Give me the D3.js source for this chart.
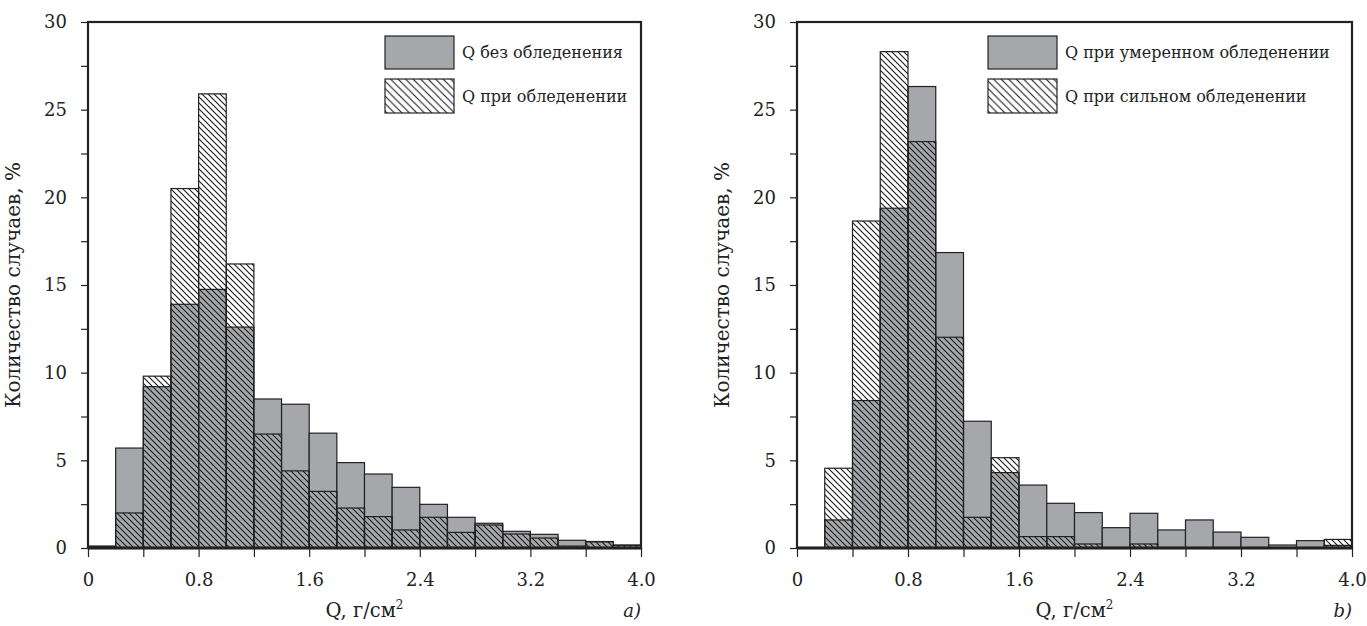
<!DOCTYPE html>
<html><head><meta charset="utf-8">
<script src="https://cdn.jsdelivr.net/npm/d3@7"></script>
<style>body{margin:0;background:#fff}svg{display:block}text{font-family:"DejaVu Serif",serif;fill:#222}</style>
</head><body>
<svg id="c" width="1367" height="626"></svg>
<script>
const binStarts = [0,0.2,0.4,0.6,0.8,1.0,1.2,1.4,1.6,1.8,2.0,2.2,2.4,2.6,2.8,3.0,3.2,3.4,3.6,3.8];
const binWidth = 0.2;
// Panel a
const aNoIce   = [0.1,5.7,9.2,13.9,14.75,12.6,8.5,8.2,6.55,4.87,4.22,3.46,2.49,1.75,1.41,0.95,0.78,0.44,0.37,0.17];
const aIce     = [0.1,2.0,9.8,20.5,25.9,16.2,6.5,4.4,3.23,2.28,1.79,1.03,1.75,0.89,1.31,0.8,0.57,0.11,0.35,0.15];
// Panel b
const bModerate= [0,1.6,8.41,19.38,26.32,16.85,7.23,4.3,3.59,2.55,2.02,1.16,1.98,1.03,1.6,0.91,0.61,0.17,0.42,0.15];
const bSevere  = [0,4.55,18.65,28.31,23.18,12.02,1.75,5.15,0.65,0.65,0.23,0,0.23,0,0,0,0,0,0,0.49];
const legendA = ["Q без обледенения","Q при обледенении"];
const legendB = ["Q при умеренном обледенении","Q при сильном обледенении"];
const xTicks = [0,0.4,0.8,1.2,1.6,2.0,2.4,2.8,3.2,3.6,4.0];
const xLabels = [0,0.8,1.6,2.4,3.2,4.0];
const yTicks = [0,2.5,5,7.5,10,12.5,15,17.5,20,22.5,25,27.5,30];
const yLabels = [0,5,10,15,20,25,30];

const svg = d3.select("#c");
const defs = svg.append("defs");
function hatch(id, s){
  const p = defs.append("pattern").attr("id",id).attr("patternUnits","userSpaceOnUse")
    .attr("width",s).attr("height",s);
  p.append("path").attr("d",`M0,0L${s},${s}M${-s/2},${s/2}L${s/2},${3*s/2}M${s/2},${-s/2}L${3*s/2},${s/2}`)
    .attr("stroke","#1a1a1a").attr("stroke-width",1.1);
}
hatch("h1",6);
hatch("h2",7.5);

const GRAY = "#a6a7aa";
const DARK = "#222";
const FONT = '"DejaVu Serif",serif';

function panel(x0, x1, gray, hat, legend, tag, legX){
  const top = 22, bottom = 548;
  const x = d3.scaleLinear().domain([0,4]).range([x0,x1]);
  const y = d3.scaleLinear().domain([0,30]).range([bottom,top]);
  const g = svg.append("g");
  g.selectAll("rect.g").data(binStarts.map((b,i)=>({b,v:gray[i]})).filter(d=>d.v>0)).enter().append("rect")
    .attr("x",d=>x(d.b)).attr("width",d=>x(d.b+binWidth)-x(d.b))
    .attr("y",d=>y(d.v)).attr("height",d=>y(0)-y(d.v))
    .attr("fill",GRAY).attr("stroke",DARK).attr("stroke-width",1.2);
  g.selectAll("rect.h").data(binStarts.map((b,i)=>({b,v:hat[i]})).filter(d=>d.v>0)).enter().append("rect")
    .attr("x",d=>x(d.b)).attr("width",d=>x(d.b+binWidth)-x(d.b))
    .attr("y",d=>y(d.v)).attr("height",d=>y(0)-y(d.v))
    .attr("fill","url(#h1)").attr("stroke",DARK).attr("stroke-width",1.2);
  // ticks
  const xa = g.append("g").attr("transform",`translate(0,${bottom})`)
    .call(d3.axisBottom(x).tickValues(xTicks).tickSize(9).tickFormat(""));
  xa.select(".domain").remove();
  xa.selectAll("line").attr("stroke",DARK).attr("stroke-width",1.2);
  const xl = g.append("g").attr("transform",`translate(0,${bottom})`)
    .call(d3.axisBottom(x).tickValues(xLabels).tickSize(0).tickPadding(0).tickFormat(d=>d===0?"0":d3.format(".1f")(d)));
  xl.select(".domain").remove();
  xl.selectAll("text").attr("y",38).attr("dy",null).attr("font-size",18).style("font-family",FONT).attr("fill",DARK);
  const ya = g.append("g").attr("transform",`translate(${x0},0)`)
    .call(d3.axisLeft(y).tickValues(yTicks).tickSize(7).tickFormat(""));
  ya.select(".domain").remove();
  ya.selectAll("line").attr("stroke",DARK).attr("stroke-width",1.2);
  const yl = g.append("g").attr("transform",`translate(${x0},0)`)
    .call(d3.axisLeft(y).tickValues(yLabels).tickSize(0).tickPadding(21));
  yl.select(".domain").remove();
  yl.selectAll("text").attr("font-size",18).style("font-family",FONT).attr("fill",DARK);
  // frame
  g.append("rect").attr("x",x0).attr("y",top).attr("width",x1-x0).attr("height",bottom-top)
    .attr("fill","none").attr("stroke",DARK).attr("stroke-width",2.2);
  g.append("line").attr("x1",x0).attr("x2",x1).attr("y1",bottom).attr("y2",bottom).attr("stroke",DARK).attr("stroke-width",3);
  // axis titles
  g.append("text").attr("transform",`translate(${x0-68},${(top+bottom)/2}) rotate(-90)`)
    .attr("text-anchor","middle").attr("font-size",20).text("Количество случаев, %");
  const xt = g.append("text").attr("x",(x0+x1)/2).attr("y",617).attr("text-anchor","middle").attr("font-size",19.5);
  xt.append("tspan").text("Q, г/см");
  xt.append("tspan").attr("font-size",12).attr("dy",-8).text("2");
  g.append("text").attr("x",x1).attr("y",617).attr("text-anchor","end").attr("font-size",18)
    .attr("font-style","italic").text(tag);
  // legend
  const lg = g.append("g").attr("transform",`translate(${legX},36)`);
  lg.append("rect").attr("width",69).attr("height",33).attr("fill",GRAY).attr("stroke",DARK).attr("stroke-width",1.2);
  lg.append("rect").attr("y",43).attr("width",69).attr("height",34).attr("fill","url(#h2)").attr("stroke",DARK).attr("stroke-width",1.2);
  lg.append("text").attr("x",77).attr("y",22).attr("font-size",16).text(legend[0]);
  lg.append("text").attr("x",77).attr("y",66).attr("font-size",16).text(legend[1]);
}
panel(88, 641, aNoIce, aIce, legendA, "a)", 385);
panel(797, 1352, bModerate, bSevere, legendB, "b)", 988);
</script>
</body></html>
